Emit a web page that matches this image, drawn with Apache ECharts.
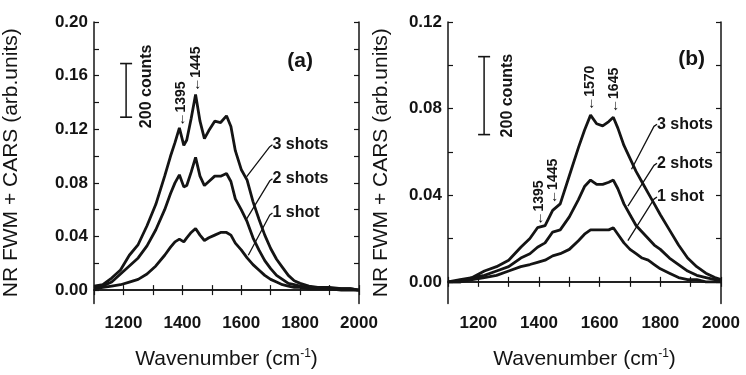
<!DOCTYPE html>
<html>
<head>
<meta charset="utf-8">
<script src="https://cdn.jsdelivr.net/npm/echarts@6/dist/echarts.min.js"></script>
<style>
  html, body { margin: 0; padding: 0; background: #fff; }
  #chart { width: 746px; height: 375px; }
</style>
</head>
<body>
<div id="chart"></div>
<script>
// panel (a) data
const wnA = [1100, 1130, 1160, 1190, 1220, 1250, 1280, 1310, 1340, 1360, 1375, 1390, 1405, 1415, 1430, 1445, 1460, 1475, 1490, 1510, 1530, 1550, 1565, 1580, 1600, 1620, 1640, 1660, 1680, 1700, 1720, 1740, 1760, 1780, 1800, 1830, 1860, 1900, 1940, 1970, 2000]
const shots3A = [0.003, 0.004, 0.009, 0.015, 0.026, 0.034, 0.048, 0.064, 0.085, 0.100, 0.110, 0.121, 0.108, 0.112, 0.128, 0.146, 0.126, 0.113, 0.119, 0.126, 0.125, 0.130, 0.122, 0.104, 0.090, 0.082, 0.066, 0.053, 0.041, 0.031, 0.023, 0.017, 0.011, 0.007, 0.005, 0.003, 0.002, 0.002, 0.001, 0.001, 0.000]
const shots2A = [0.002, 0.003, 0.006, 0.012, 0.018, 0.024, 0.033, 0.045, 0.060, 0.072, 0.080, 0.086, 0.077, 0.078, 0.088, 0.099, 0.085, 0.078, 0.081, 0.085, 0.085, 0.087, 0.081, 0.068, 0.060, 0.051, 0.039, 0.030, 0.022, 0.016, 0.011, 0.008, 0.005, 0.004, 0.003, 0.002, 0.002, 0.001, 0.001, 0.001, 0.000]
const shots1A = [0.001, 0.002, 0.003, 0.004, 0.006, 0.008, 0.012, 0.018, 0.026, 0.032, 0.036, 0.038, 0.036, 0.039, 0.043, 0.046, 0.041, 0.037, 0.039, 0.041, 0.043, 0.043, 0.041, 0.035, 0.030, 0.024, 0.019, 0.015, 0.011, 0.008, 0.006, 0.004, 0.003, 0.002, 0.002, 0.001, 0.001, 0.001, 0.000, 0.000, 0.000]

// panel (b) data
const wnB = [1100, 1140, 1180, 1220, 1260, 1300, 1340, 1370, 1395, 1420, 1445, 1470, 1500, 1530, 1550, 1570, 1590, 1610, 1630, 1645, 1660, 1680, 1700, 1720, 1740, 1760, 1780, 1800, 1830, 1860, 1890, 1920, 1950, 1980, 2000]
const shots3B = [0.000, 0.001, 0.002, 0.005, 0.007, 0.010, 0.016, 0.020, 0.025, 0.026, 0.033, 0.036, 0.049, 0.062, 0.070, 0.077, 0.073, 0.072, 0.074, 0.076, 0.071, 0.063, 0.057, 0.051, 0.046, 0.041, 0.036, 0.031, 0.024, 0.017, 0.011, 0.007, 0.004, 0.002, 0.001]
const shots2B = [0.000, 0.000, 0.002, 0.003, 0.005, 0.007, 0.011, 0.013, 0.016, 0.018, 0.023, 0.024, 0.030, 0.038, 0.044, 0.047, 0.045, 0.045, 0.046, 0.047, 0.043, 0.036, 0.031, 0.026, 0.023, 0.020, 0.017, 0.015, 0.011, 0.008, 0.005, 0.003, 0.002, 0.001, 0.000]
const shots1B = [0.000, 0.000, 0.001, 0.002, 0.003, 0.005, 0.007, 0.008, 0.009, 0.010, 0.012, 0.013, 0.015, 0.019, 0.022, 0.024, 0.024, 0.024, 0.024, 0.025, 0.022, 0.018, 0.015, 0.013, 0.011, 0.010, 0.008, 0.006, 0.004, 0.002, 0.001, 0.001, 0.000, 0.000, 0.000]

// axis ticks and labels
const xLabels = [1200, 1400, 1600, 1800, 2000]
const xTicks = [1100, 1200, 1300, 1400, 1500, 1600, 1700, 1800, 1900, 2000]
const yLabelsA = [0, 0.04, 0.08, 0.12, 0.16, 0.2]
const yTicksA = [0, 0.02, 0.04, 0.06, 0.08, 0.1, 0.12, 0.14, 0.16, 0.18, 0.2]
const yLabelsB = [0, 0.04, 0.08, 0.12]
const yTicksB = [0, 0.02, 0.04, 0.06, 0.08, 0.1, 0.12]

// annotations (data coordinates)
const scaleBarA = [[1209, 0.169], [1209, 0.129]]
const scaleBarB = [[1219, 0.104], [1219, 0.068]]
const countsA = [1280, 0.152]
const countsB = [1296, 0.086]
const peaksA = [["1395", 1397, 0.122], ["1445", 1447, 0.148]]
const peaksB = [["1395", 1400, 0.026], ["1445", 1446, 0.036], ["1570", 1570, 0.079], ["1645", 1648, 0.078]]
const tagA = [1800, 0.171]
const tagB = [1903, 0.1026]
const shotLabels = ["3 shots", "2 shots", "1 shot"]
const leadersA = [
  [[1706, 0.1085], [1697, 0.107], [1618, 0.0845]],
  [[1706, 0.083], [1697, 0.0815], [1618, 0.053]],
  [[1706, 0.0575], [1697, 0.056], [1624, 0.026]]
]
const leadersB = [
  [[1789, 0.0728], [1779, 0.0718], [1705, 0.052]],
  [[1789, 0.0548], [1779, 0.0538], [1693, 0.035]],
  [[1789, 0.0392], [1779, 0.0382], [1693, 0.019]]
]

const font = "Liberation Sans, Arial, sans-serif"
const ink = "#141414"

function zip(xs, ys) {
  return xs.map((x, i) => [x, ys[i]])
}

function xAxes(grid) {
  return [
    {
      gridIndex: grid, type: "value", min: 1100, max: 2000, position: "bottom",
      name: "Wavenumber (cm{sup|-1})", nameLocation: "middle", nameGap: 44,
      nameTextStyle: {
        color: ink, fontFamily: font, fontSize: 21,
        rich: { sup: { fontSize: 12, fontFamily: font, color: ink, padding: [0, 0, 12, 0] } }
      },
      axisLine: { lineStyle: { color: ink, width: 1.5 } },
      axisTick: { inside: true, length: 5, customValues: xTicks, lineStyle: { color: ink, width: 1.2 } },
      axisLabel: {
        customValues: xLabels, color: ink, fontFamily: font, fontSize: 17, fontWeight: "bold", margin: 11,
        formatter: v => String(v)
      },
      splitLine: { show: false }
    },
    {
      gridIndex: grid, type: "value", min: 1100, max: 2000, position: "top",
      axisLine: { lineStyle: { color: ink, width: 1.5 } },
      axisTick: { inside: true, length: 5, customValues: xTicks, lineStyle: { color: ink, width: 1.2 } },
      axisLabel: { show: false },
      splitLine: { show: false }
    }
  ]
}

function yAxes(grid, max, labels, ticks, gap) {
  return [
    {
      gridIndex: grid, type: "value", min: -0.01, max: max, position: "left",
      name: "NR FWM + CARS (arb.units)", nameLocation: "middle", nameGap: gap,
      nameTextStyle: { color: ink, fontFamily: font, fontSize: 21 },
      axisLine: { lineStyle: { color: ink, width: 1.5 } },
      axisTick: { inside: true, length: 5, customValues: ticks, lineStyle: { color: ink, width: 1.2 } },
      axisLabel: {
        customValues: labels, color: ink, fontFamily: font, fontSize: 17, fontWeight: "bold", margin: 6,
        formatter: v => v.toFixed(2)
      },
      splitLine: { show: false }
    },
    {
      gridIndex: grid, type: "value", min: -0.01, max: max, position: "right",
      axisLine: { lineStyle: { color: ink, width: 1.5 } },
      axisTick: { inside: true, length: 5, customValues: ticks, lineStyle: { color: ink, width: 1.2 } },
      axisLabel: { show: false },
      splitLine: { show: false }
    }
  ]
}

function curve(grid, xs, ys) {
  return {
    type: "line", xAxisIndex: grid * 2, yAxisIndex: grid * 2, data: zip(xs, ys),
    showSymbol: false, silent: true, animation: false,
    lineStyle: { color: ink, width: 2.8 }
  }
}

function plainLine(grid, pts, width) {
  return {
    type: "line", xAxisIndex: grid * 2, yAxisIndex: grid * 2, data: pts,
    showSymbol: false, silent: true, animation: false,
    lineStyle: { color: ink, width: width }
  }
}

function textMarks(grid, items, size, rotate, align) {
  return {
    type: "scatter", xAxisIndex: grid * 2, yAxisIndex: grid * 2, symbolSize: 0,
    silent: true, animation: false,
    itemStyle: { opacity: 1, color: ink },
    data: items.map(it => ({ value: [it[1], it[2]], name: it[0] })),
    label: {
      show: true, position: "inside", formatter: p => p.name, rotate: rotate,
      align: align, verticalAlign: "middle",
      color: ink, fontFamily: font, fontSize: size, fontWeight: "bold"
    }
  }
}

function panelSeries(grid, xs, s3, s2, s1, bar, counts, peaks, tag, leaders, tagText) {
  const list = [curve(grid, xs, s3), curve(grid, xs, s2), curve(grid, xs, s1)]
  // scale bar with caps
  list.push({
    type: "line", xAxisIndex: grid * 2, yAxisIndex: grid * 2, data: bar,
    symbol: "rect", symbolSize: [12, 1.6], showSymbol: true, silent: true, animation: false,
    itemStyle: { color: ink }, lineStyle: { color: ink, width: 1.5 }
  })
  leaders.forEach(pts => list.push(plainLine(grid, pts, 1.3)))
  list.push(textMarks(grid, [["200 counts", counts[0], counts[1]]], 16, 90, "center"))
  list.push(textMarks(grid, peaks.map(p => ["\u2190" + p[0], p[1], p[2]]), 14, 90, "left"))
  list.push(textMarks(grid, [[tagText, tag[0], tag[1]]], 21, 0, "center"))
  list.push(textMarks(grid, leaders.map((pts, i) => [shotLabels[i], pts[0][0], pts[0][1]]), 16, 0, "left"))
  return list
}

const chart = echarts.init(document.getElementById("chart"), null, { renderer: "canvas" })

chart.setOption({
  backgroundColor: "#fff",
  animation: false,
  grid: [
    { left: 86, top: 22, width: 273, height: 288 },
    { left: 448, top: 22, width: 273, height: 288 }
  ],
  xAxis: [...xAxes(0), ...xAxes(1)],
  yAxis: [...yAxes(0, 0.2, yLabelsA, yTicksA, 72), ...yAxes(1, 0.12, yLabelsB, yTicksB, 56)],
  series: [
    ...panelSeries(0, wnA, shots3A, shots2A, shots1A, scaleBarA, countsA, peaksA, tagA, leadersA, "(a)"),
    ...panelSeries(1, wnB, shots3B, shots2B, shots1B, scaleBarB, countsB, peaksB, tagB, leadersB, "(b)")
  ]
})
</script>
</body>
</html>
